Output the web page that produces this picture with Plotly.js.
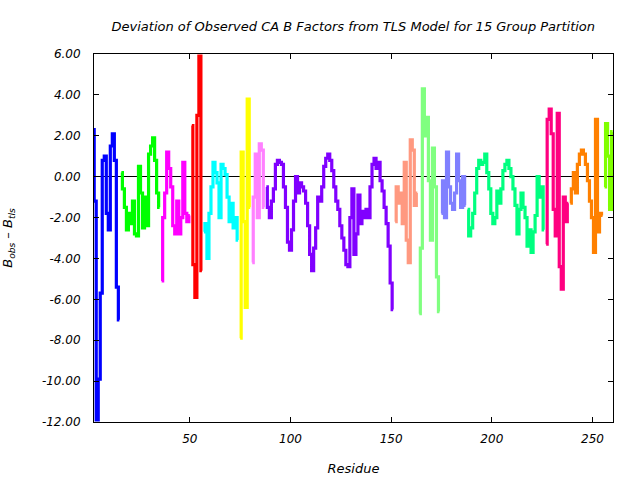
<!DOCTYPE html>
<html>
<head>
<meta charset="utf-8">
<script src="https://cdn.plot.ly/plotly-3.0.1.min.js"></script>
<style>
  html, body { margin: 0; padding: 0; background: #ffffff; }
  #chart { width: 640px; height: 480px; }
</style>
</head>
<body>
<div id="chart"></div>
<script>
// TLS group partition: first residue of each group, colour and name
const groupNames = ["Group 1","Group 2","Group 3","Group 4","Group 5","Group 6","Group 7","Group 8",
                    "Group 9","Group 10","Group 11","Group 12","Group 13","Group 14","Group 15"];
const groupFirstResidue = [2, 16, 36, 51, 57, 75, 81, 88, 152, 164, 175, 188, 227, 239, 256];
const groupColors = ["#0000ff","#00ff00","#ff00ff","#ff0000","#00ffff","#ffff00","#ff80ff","#8000ff",
                     "#ff9980","#80ff80","#8080ff","#00ff80","#ff0080","#ff8000","#80ff00"];

// B_obs - B_tls per residue, one array per group
const dev1  = [2.3, -1.2, -11.9, -9.9, -5.7, 0.8, 1.0, -1.8, -2.6, 1.5, 2.1, 0.8, -5.4, -7.0];
const dev2  = [0.2, -0.6, -1.5, -2.6, -1.8, -2.3, -1.2, -2.8, -2.9, 0.5, -0.8, -2.5, -1.0, -2.4, 1.1, 1.5, 1.9, 0.8, -0.8, -1.5];
const dev3  = [-5.1, -2.0, -0.8, 1.2, 0.4, -0.5, -2.4, -2.8, -1.2, -2.8, -2.0, 0.7, -1.8, -2.2, -1.9];
const dev4  = [2.5, -4.3, -5.9, 3.0, 5.9, -4.6];
const dev5  = [-2.7, -2.3, -4.0, -1.8, -0.5, 0.7, 0.2, -0.3, -2.0, 0.6, 0.4, 0.1, -1.0, -2.2, -1.3, -2.5, -2.0, -3.1];
const dev6  = [-7.9, 1.2, -2.2, -6.4, 3.8, -1.5];
const dev7  = [-4.2, -1.0, 1.1, -2.0, 1.6, 1.3, -1.5];
const dev8  = [-0.5, -1.5, -2.0, -1.2, -0.6, 0.6, 0.8, 0.7, 0.6, -0.5, -1.5, -3.2, -3.6, -2.6, -1.2, 0.0,
               -0.8, -0.3, -0.5, -0.7, -1.3, -2.4, -3.8, -4.6, -3.5, -2.5, -1.0, -1.2, -0.5, 0.5, 0.9, 1.1,
               0.8, 0.3, -0.5, -1.2, -1.6, -2.4, -3.0, -3.6, -4.3, -4.4, -2.0, -0.6, -3.8, -2.8, -0.9, -2.3,
               -1.7, -2.0, -1.6, -2.0, -0.5, 0.6, 0.9, 0.4, 0.7, -0.2, -0.7, -1.5, -2.3, -3.4, -5.2, -6.5];
const dev9  = [-2.2, -0.5, -1.3, -0.8, -2.3, 0.7, -3.1, -4.2, 1.8, 1.3, -1.4, -0.8];
const dev10 = [-6.7, -3.5, 4.3, 2.0, 2.9, -0.2, -3.1, 1.4, -0.5, -4.9, -6.6];
const dev11 = [-1.8, -0.2, -2.0, 1.2, -0.5, -1.3, -1.6, -0.8, 1.1, -0.2, -1.5, 0.0, -1.4];
const dev12 = [-1.6, -2.9, -2.5, -1.8, -0.8, 0.4, 0.8, 0.6, 0.7, 1.1, 0.2, -0.6, -1.8, -2.3, -2.0, -0.7,
               -1.3, -0.6, 0.3, 0.6, 0.8, 0.4, 0.0, -0.6, -1.4, -2.8, -1.6, -0.8, -1.5, -2.0, -3.4, -2.6,
               -3.7, -2.7, -1.9, 0.0, -1.0, -0.5, -2.6];
const dev13 = [-3.3, 2.8, 3.3, 2.1, -1.6, -2.9, 3.1, -4.4, -5.5, -1.0, -2.2, -1.3];
const dev14 = [-1.3, -0.6, 0.2, -0.8, 0.6, 1.1, 1.3, 1.1, 0.6, -0.2, -1.2, -2.0, -3.7, 2.8, -2.7, -1.8, -1.9];
const dev15 = [-0.5, 2.6, 1.0, -1.6, 2.2];

const yTickVals = [6, 4, 2, 0, -2, -4, -6, -8, -10, -12];
const xTickVals = [50, 100, 150, 200, 250];

const groupValues = [dev1, dev2, dev3, dev4, dev5, dev6, dev7, dev8, dev9, dev10, dev11, dev12, dev13, dev14, dev15];

const traces = groupValues.map((vals, g) => {
  const x = vals.map((_, i) => groupFirstResidue[g] + i);
  return {
    type: "scatter",
    mode: "lines",
    x: x,
    y: vals,
    name: groupNames[g],
    line: { color: groupColors[g], width: 3.2, shape: "hvh" },
    hoverinfo: "x+y"
  };
});

const fontFam = "DejaVu Sans, Verdana, sans-serif";

const layout = {
  width: 640,
  height: 480,
  paper_bgcolor: "#ffffff",
  plot_bgcolor: "#ffffff",
  showlegend: false,
  margin: { l: 94, r: 27, t: 54, b: 58 },
  title: {
    text: "Deviation of Observed CA B Factors from TLS Model for 15 Group Partition",
    font: { family: fontFam, size: 13, color: "#000000", style: "italic" },
    x: 0.552, xanchor: "center", y: 0.945, yanchor: "middle"
  },
  xaxis: {
    range: [2.4, 260.2],
    tickvals: xTickVals,
    ticktext: xTickVals.map(String),
    ticks: "inside",
    ticklen: 5,
    tickcolor: "#000000",
    showline: true,
    linecolor: "#000000",
    linewidth: 1,
    mirror: "allticks",
    showgrid: false,
    zeroline: false,
    ticklabelstandoff: 6,
    tickfont: { family: fontFam, size: 12, color: "#000000", style: "italic" },
    title: { text: "Residue", font: { family: fontFam, size: 13, color: "#000000", style: "italic" }, standoff: 18 }
  },
  yaxis: {
    range: [-12, 6],
    tickvals: yTickVals,
    ticktext: yTickVals.map(v => v.toFixed(2)),
    ticks: "inside",
    ticklen: 5,
    tickcolor: "#000000",
    showline: true,
    linecolor: "#000000",
    linewidth: 1,
    mirror: "allticks",
    showgrid: false,
    zeroline: true,
    zerolinecolor: "#000000",
    zerolinewidth: 1,
    ticklabelstandoff: 10,
    tickfont: { family: fontFam, size: 12, color: "#000000", style: "italic" },
    title: {
      text: "B<sub>obs</sub> \u2013 B<sub>tls</sub>",
      font: { family: fontFam, size: 13, color: "#000000", style: "italic" },
      standoff: 26
    }
  }
};

Plotly.newPlot("chart", traces, layout, { displayModeBar: false, staticPlot: true });
</script>
</body>
</html>
